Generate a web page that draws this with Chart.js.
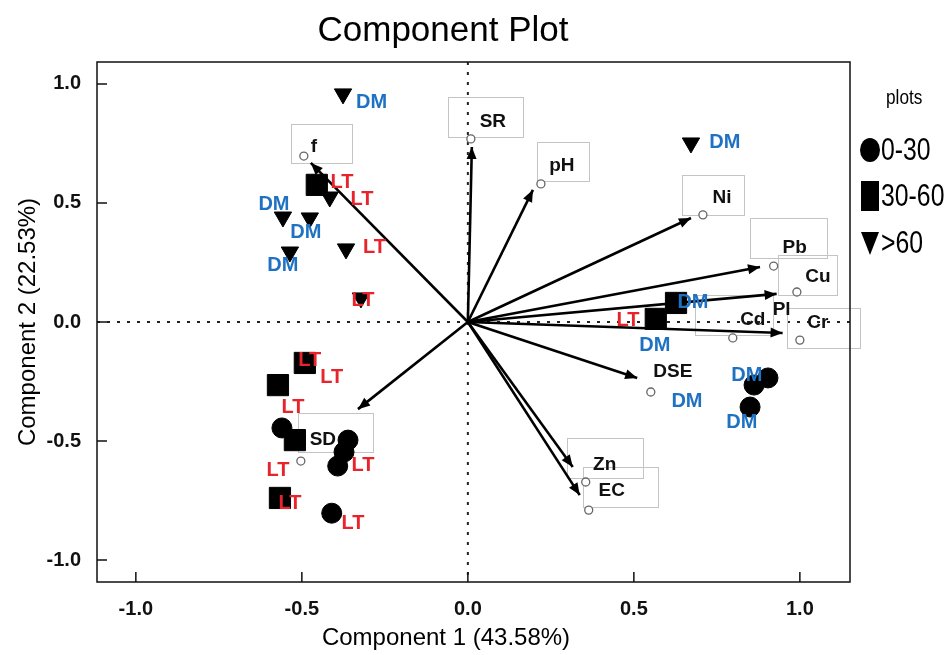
<!DOCTYPE html>
<html>
<head>
<meta charset="utf-8">
<script src="https://cdn.jsdelivr.net/npm/chart.js@4.4.1/dist/chart.umd.min.js"></script>
<style>
  body { margin: 0; background: #fff; }
</style>
</head>
<body>
<canvas id="chart" width="950" height="655"></canvas>
<script>
const FONT = 'Liberation Sans, Arial, Helvetica, sans-serif';

// axis ticks
const xTicks = [-1.0, -0.5, 0.0, 0.5, 1.0];
const yTicks = [-1.0, -0.5, 0.0, 0.5, 1.0];

// variable points (component loadings)
const varNames = ['SR', 'pH', 'Ni', 'Pb', 'Cu', 'Cd', 'Cr', 'DSE', 'Zn', 'EC', 'f', 'SD'];
const varX = [0.009, 0.220, 0.708, 0.921, 0.991, 0.798, 1.000, 0.551, 0.355, 0.364, -0.494, -0.503];
const varY = [0.769, 0.580, 0.450, 0.235, 0.126, -0.067, -0.076, -0.294, -0.672, -0.790, 0.697, -0.584];

// arrows from the origin
const arrowNames = ['SR', 'pH', 'Ni', 'Pb', 'Cu', 'Cr', 'DSE', 'Zn', 'EC', 'f', 'SD'];
const arrowX = [0.012, 0.196, 0.672, 0.880, 0.930, 0.948, 0.510, 0.316, 0.337, -0.473, -0.331];
const arrowY = [0.735, 0.555, 0.437, 0.231, 0.118, -0.046, -0.235, -0.609, -0.727, 0.668, -0.366];

// extra label without a point
const extraNames = ['Pl'];
const extraX = [0.945];
const extraY = [0.050];

// sample scores by depth
const d030X = [0.904, 0.862, 0.850, -0.560, -0.361, -0.373, -0.392, -0.410];
const d030Y = [-0.235, -0.265, -0.357, -0.445, -0.496, -0.546, -0.605, -0.803];
const d3060X = [-0.455, 0.627, 0.566, -0.491, -0.572, -0.521, -0.566];
const d3060Y = [0.576, 0.080, 0.013, -0.172, -0.265, -0.496, -0.739];
const d60X = [-0.376, -0.416, -0.557, -0.476, -0.536, -0.367, -0.322, 0.672];
const d60Y = [0.958, 0.525, 0.441, 0.437, 0.294, 0.307, 0.101, 0.752];

// site labels
const siteText = ['DM', 'LT', 'LT', 'DM', 'DM', 'DM', 'LT', 'LT', 'DM', 'DM', 'LT',
  'DM', 'DM', 'DM', 'DM', 'LT', 'LT', 'LT', 'LT', 'LT', 'LT', 'LT'];
const siteX = [-0.290, -0.379, -0.319, -0.584, -0.488, -0.557, -0.281, -0.316, 0.774, 0.678, 0.482,
  0.563, 0.840, 0.825, 0.660, -0.476, -0.410, -0.527, -0.316, -0.572, -0.536, -0.346];
const siteY = [0.924, 0.588, 0.513, 0.492, 0.374, 0.239, 0.315, 0.092, 0.752, 0.080, 0.008,
  -0.097, -0.223, -0.424, -0.332, -0.160, -0.235, -0.361, -0.601, -0.622, -0.761, -0.845];

const siteColors = { DM: '#1f72c2', LT: '#e8232b' };

// label placement around each variable point (pixels)
const varLabelStyle = {
  SR: { dx: 22, dy: -17, box: [-23, -42, 52, -2] },
  pH: { dx: 21, dy: -18, box: [-4, -42, 48, -3] },
  Ni: { dx: 19, dy: -17, box: [-21, -40, 41, 0] },
  Pb: { dx: 21, dy: -18, box: [-24, -48, 53, -8] },
  Cu: { dx: 21, dy: -15, box: [-19, -37, 40, 3] },
  Cd: { dx: 20, dy: -18, box: [-38, -43, 40, -3] },
  Cr: { dx: 18, dy: -17, box: [-13, -32, 60, 8] },
  DSE: { dx: 22, dy: -20, box: null },
  Zn: { dx: 19, dy: -17, box: [-19, -44, 57, -4] },
  EC: { dx: 23, dy: -19, box: [-6, -43, 69, -3] },
  f: { dx: 10, dy: -9, box: [-13, -32, 48, 7] },
  SD: { dx: 22, dy: -21, box: [-3, -48, 72, -9] }
};

function pts(xs, ys) {
  return xs.map((x, i) => ({ x: x, y: ys[i] }));
}

const datasets = [];

datasets.push({
  label: 'variables',
  data: pts(varX, varY),
  pointStyle: 'circle',
  pointRadius: 4,
  pointBorderWidth: 1.3,
  pointBorderColor: '#666',
  pointBackgroundColor: '#fff',
  showLine: false
});

arrowNames.forEach((name, i) => {
  datasets.push({
    label: 'arrow ' + name,
    isArrow: true,
    data: [{ x: 0, y: 0 }, { x: arrowX[i], y: arrowY[i] }],
    showLine: true,
    borderColor: '#000',
    borderWidth: 2.6,
    pointRadius: 0
  });
});

datasets.push({
  label: '0-30',
  data: pts(d030X, d030Y),
  pointStyle: 'circle',
  pointRadius: 10,
  pointBackgroundColor: '#000',
  pointBorderColor: '#000',
  showLine: false
});
datasets.push({
  label: '30-60',
  data: pts(d3060X, d3060Y),
  pointStyle: 'rect',
  pointRadius: 15,
  pointBackgroundColor: '#000',
  pointBorderColor: '#000',
  showLine: false
});
datasets.push({
  label: '>60',
  data: pts(d60X, d60Y),
  pointStyle: 'triangle',
  rotation: 180,
  pointRadius: 10,
  pointBackgroundColor: '#000',
  pointBorderColor: '#000',
  showLine: false
});

// squeezed text, the legend uses a narrow face
function narrowText(ctx, text, x, y, size, squeeze) {
  ctx.save();
  ctx.translate(x, y);
  ctx.scale(squeeze, 1);
  ctx.font = size + 'px ' + FONT;
  ctx.fillText(text, 0, 0);
  ctx.restore();
}

const biplotPlugin = {
  id: 'biplot',
  beforeDatasetsDraw(chart) {
    const { ctx, chartArea: a, scales: { x, y } } = chart;
    ctx.save();
    // dotted zero lines
    ctx.strokeStyle = '#222';
    ctx.lineWidth = 2;
    ctx.setLineDash([3, 7]);
    ctx.beginPath();
    ctx.moveTo(a.left, y.getPixelForValue(0));
    ctx.lineTo(a.right, y.getPixelForValue(0));
    ctx.moveTo(x.getPixelForValue(0), a.top);
    ctx.lineTo(x.getPixelForValue(0), a.bottom);
    ctx.stroke();
    ctx.setLineDash([]);
    // label boxes
    ctx.strokeStyle = '#c4c4c4';
    ctx.lineWidth = 1;
    varNames.forEach((n, i) => {
      const s = varLabelStyle[n];
      if (!s.box) return;
      const px = Math.round(x.getPixelForValue(varX[i])) + 0.5;
      const py = Math.round(y.getPixelForValue(varY[i])) + 0.5;
      ctx.strokeRect(px + s.box[0], py + s.box[1], s.box[2] - s.box[0], s.box[3] - s.box[1]);
    });
    ctx.restore();
  },
  afterDatasetsDraw(chart) {
    const { ctx, chartArea: a, scales: { x, y } } = chart;
    ctx.save();

    // arrow heads
    ctx.fillStyle = '#000';
    chart.data.datasets.forEach((ds, di) => {
      if (!ds.isArrow) return;
      const meta = chart.getDatasetMeta(di);
      const p0 = meta.data[0], p1 = meta.data[1];
      const ang = Math.atan2(p1.y - p0.y, p1.x - p0.x);
      const len = 12, half = 5;
      ctx.beginPath();
      ctx.moveTo(p1.x, p1.y);
      ctx.lineTo(p1.x - len * Math.cos(ang) + half * Math.sin(ang), p1.y - len * Math.sin(ang) - half * Math.cos(ang));
      ctx.lineTo(p1.x - len * Math.cos(ang) - half * Math.sin(ang), p1.y - len * Math.sin(ang) + half * Math.cos(ang));
      ctx.closePath();
      ctx.fill();
    });

    // variable labels
    ctx.fillStyle = '#111';
    ctx.font = 'bold 19px ' + FONT;
    ctx.textAlign = 'center';
    ctx.textBaseline = 'middle';
    varNames.forEach((n, i) => {
      const s = varLabelStyle[n];
      ctx.fillText(n, x.getPixelForValue(varX[i]) + s.dx, y.getPixelForValue(varY[i]) + s.dy);
    });
    extraNames.forEach((n, i) => {
      ctx.fillText(n, x.getPixelForValue(extraX[i]), y.getPixelForValue(extraY[i]));
    });

    // site labels
    ctx.font = 'bold 20px ' + FONT;
    siteText.forEach((t, i) => {
      ctx.fillStyle = siteColors[t];
      ctx.fillText(t, x.getPixelForValue(siteX[i]), y.getPixelForValue(siteY[i]));
    });

    // frame and inward ticks
    ctx.strokeStyle = '#111';
    ctx.lineWidth = 1.5;
    ctx.strokeRect(a.left, a.top, a.right - a.left, a.bottom - a.top);
    ctx.beginPath();
    xTicks.forEach(v => {
      const px = x.getPixelForValue(v);
      ctx.moveTo(px, a.bottom);
      ctx.lineTo(px, a.bottom - 10);
    });
    yTicks.forEach(v => {
      const py = y.getPixelForValue(v);
      ctx.moveTo(a.left, py);
      ctx.lineTo(a.left + 10, py);
    });
    ctx.stroke();

    // titles
    ctx.fillStyle = '#000';
    ctx.font = '35px ' + FONT;
    ctx.fillText('Component Plot', 443, 31);
    ctx.font = '24px ' + FONT;
    ctx.fillText('Component 1 (43.58%)', 446, 638);
    ctx.save();
    ctx.translate(28, 322);
    ctx.rotate(-Math.PI / 2);
    ctx.fillText('Component 2 (22.53%)', 0, 0);
    ctx.restore();

    // legend
    ctx.textAlign = 'left';
    narrowText(ctx, 'plots', 886, 98, 21, 0.82);
    const lx = 870;
    ctx.beginPath();
    ctx.ellipse(lx, 150, 10, 12, 0, 0, Math.PI * 2);
    ctx.fill();
    narrowText(ctx, '0-30', 881, 151, 31, 0.8);
    ctx.fillRect(lx - 9, 181, 18, 30);
    narrowText(ctx, '30-60', 881, 197, 31, 0.8);
    ctx.beginPath();
    ctx.moveTo(lx - 9, 232);
    ctx.lineTo(lx + 9, 232);
    ctx.lineTo(lx, 255);
    ctx.closePath();
    ctx.fill();
    narrowText(ctx, '>60', 881, 244, 31, 0.8);

    ctx.restore();
  }
};

const chart = new Chart(document.getElementById('chart'), {
  type: 'scatter',
  data: { datasets: datasets },
  options: {
    responsive: false,
    animation: false,
    layout: { padding: { top: 62, right: 100, left: 0, bottom: 0 } },
    plugins: {
      legend: { display: false },
      tooltip: { enabled: false },
      title: { display: false }
    },
    scales: {
      x: {
        type: 'linear',
        min: -1.117,
        max: 1.151,
        afterBuildTicks: s => { s.ticks = xTicks.map(v => ({ value: v })); },
        afterFit: s => { s.height = 73; },
        grid: { display: false, drawTicks: false },
        border: { display: false },
        ticks: {
          padding: 15,
          color: '#111',
          font: { family: FONT, size: 20, weight: 'bold' },
          maxRotation: 0,
          callback: v => v.toFixed(1)
        }
      },
      y: {
        type: 'linear',
        min: -1.092,
        max: 1.092,
        afterBuildTicks: s => { s.ticks = yTicks.map(v => ({ value: v })); },
        afterFit: s => { s.width = 97; },
        grid: { display: false, drawTicks: false },
        border: { display: false },
        ticks: {
          padding: 16,
          color: '#111',
          font: { family: FONT, size: 20, weight: 'bold' },
          callback: v => v.toFixed(1)
        }
      }
    }
  },
  plugins: [biplotPlugin]
});
</script>
</body>
</html>
